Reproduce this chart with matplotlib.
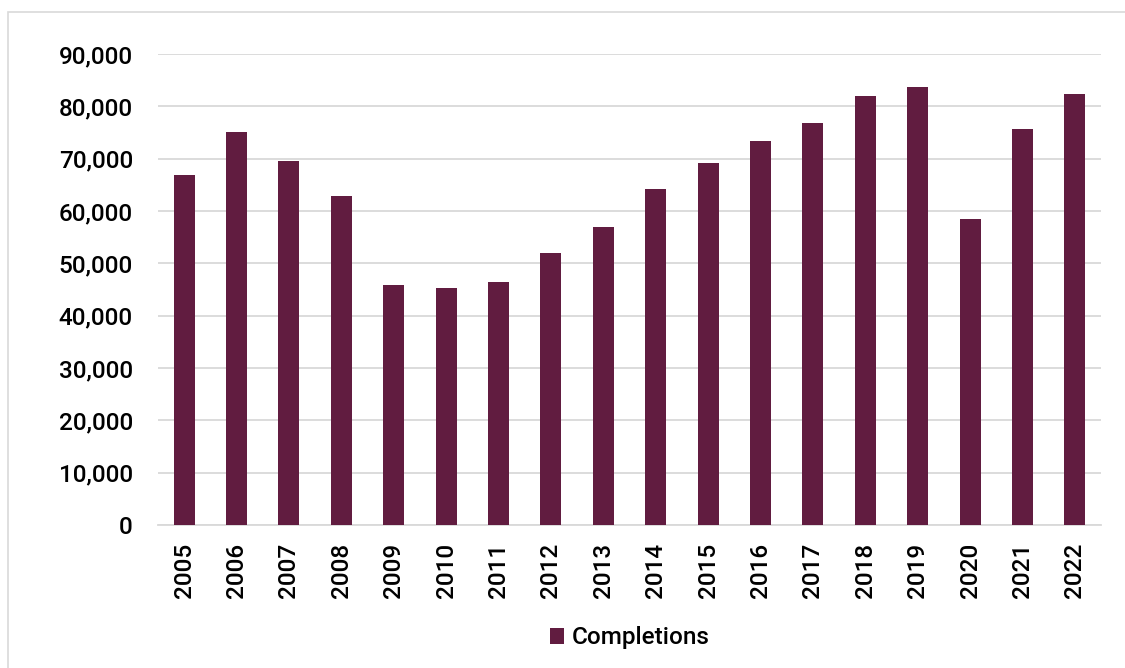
import matplotlib.pyplot as plt
from matplotlib.patches import Rectangle
from matplotlib.ticker import FuncFormatter, MultipleLocator


# chart data
YEARS = [str(y) for y in range(2005, 2023)]
COMPLETIONS = [
    66900, 75100, 69600, 62900, 45900, 45300, 46500, 51900, 56900,
    64200, 69100, 73400, 76800, 82000, 83700, 58400, 75700, 82300,
]
SERIES_NAME = "Completions"

# styling
BAR_COLOR = "#611C40"
GRID_COLOR = "#D9D9D9"
FONT_SIZE = 17.5

plt.rcParams["font.family"] = ["Roboto", "DejaVu Sans"]
plt.rcParams["font.weight"] = "medium"

fig = plt.figure(figsize=(11.25, 6.68), dpi=100)
ax = fig.add_axes([0.1404, 0.2141, 0.8383, 0.7051])

x = range(len(YEARS))
ax.bar(x, COMPLETIONS, width=0.4, color=BAR_COLOR, label=SERIES_NAME, zorder=3)

ax.set_xlim(-0.5, len(YEARS) - 0.5)
ax.set_ylim(0, 90000)
ax.yaxis.set_major_locator(MultipleLocator(10000))
ax.yaxis.set_major_formatter(FuncFormatter(lambda v, p: f"{int(v):,}"))
ax.set_xticks(list(x))
ax.set_xticklabels(YEARS, rotation=90)

ax.grid(axis="y", color=GRID_COLOR, linewidth=1.3, zorder=0)
for side in ["top", "right", "left"]:
    ax.spines[side].set_visible(False)
ax.spines["bottom"].set_color(GRID_COLOR)
ax.spines["bottom"].set_linewidth(1.3)

ax.tick_params(axis="both", length=0, labelsize=FONT_SIZE, colors="black")
ax.tick_params(axis="y", pad=18)
ax.tick_params(axis="x", pad=13)

fig.legend(
    loc="center",
    bbox_to_anchor=(0.5595, 0.045),
    frameon=False,
    fontsize=FONT_SIZE,
    handlelength=0.6,
    handleheight=0.6,
    handletextpad=0.3,
)

# light chart border (open on the right and bottom, as in the original)
fig.patches.append(
    Rectangle(
        (8 / 1125, -0.1), 1.2, 1 - 12 / 668 + 0.1,
        transform=fig.transFigure, fill=False,
        edgecolor="#D9D9D9", linewidth=1.2, zorder=0,
    )
)

fig.savefig("out.png", dpi=100, facecolor="white")
